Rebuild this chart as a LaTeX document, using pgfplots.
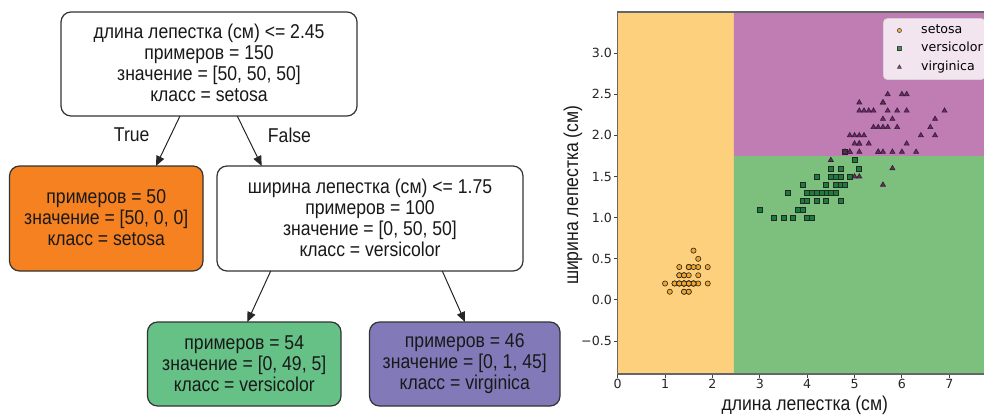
\documentclass[border=0pt]{standalone}
\usepackage{fontspec}
\setmainfont{DejaVu Sans}
\newfontfamily\treefont[FakeStretch=0.88]{Liberation Sans}
\usepackage{pgfplots}
\pgfplotsset{compat=1.18}
\usetikzlibrary{arrows.meta}
\definecolor{regA}{RGB}{253,208,125}
\definecolor{regB}{RGB}{125,192,125}
\definecolor{regC}{RGB}{191,125,180}
\definecolor{mkA}{RGB}{245,165,35}
\definecolor{mkB}{RGB}{25,125,60}
\definecolor{mkC}{RGB}{125,30,120}
\definecolor{nodeA}{RGB}{245,129,33}
\definecolor{nodeB}{RGB}{102,193,135}
\definecolor{nodeC}{RGB}{130,121,185}
\begin{document}
\begin{tikzpicture}
\useasboundingbox (0,0) rectangle (492pt,-208.5pt);
\clip (0,0) rectangle (492pt,-208.5pt);
\begin{scope}[x=0.5pt,y=-0.5pt,
  box/.style={draw=black!80, line width=0.6pt, rounded corners=5pt},
  txt/.style={align=center, text=black!90, inner sep=0pt, font=\treefont\fontsize{10pt}{10.5pt}\selectfont},
  arr/.style={draw=black!85, line width=0.5pt, -{Triangle[length=5pt,width=4.2pt]}}]
\draw[box, fill=white] (61,12) rectangle (357,116);
\node[txt] at (209,63) {длина лепестка (см) <= 2.45\\примеров = 150\\значение = [50, 50, 50]\\класс = setosa};
\draw[box, fill=nodeA] (9.5,166) rectangle (203,271);
\node[txt] at (106.25,217.5) {примеров = 50\\значение = [50, 0, 0]\\класс = setosa};
\draw[box, fill=white] (217,166) rectangle (523,271);
\node[txt] at (370,217.5) {ширина лепестка (см) <= 1.75\\примеров = 100\\значение = [0, 50, 50]\\класс = versicolor};
\draw[box, fill=nodeB] (147.5,322) rectangle (341,406);
\node[txt] at (244.25,363.5) {примеров = 54\\значение = [0, 49, 5]\\класс = versicolor};
\draw[box, fill=nodeC] (369.5,322) rectangle (560,406);
\node[txt] at (464.75,363.5) {примеров = 46\\значение = [0, 1, 45]\\класс = virginica};
\draw[arr] (180,116) -- (156,166);
\draw[arr] (237.3,116) -- (261.7,166);
\draw[arr] (270.7,271) -- (247.3,322);
\draw[arr] (442.3,271) -- (465,322);
\node[txt] at (131.7,135) {True};
\node[txt] at (289.5,135) {False};
\end{scope}
\begin{axis}[at={(308.85pt,-187pt)}, anchor=south west, scale only axis,
  width=187.1pt, height=181pt,
  xmin=0, xmax=7.9, ymin=-0.9, ymax=3.5,
  xtick={0,1,2,3,4,5,6,7}, xticklabels={0,1,2,3,4,5,6,7},
  ytick={-0.5,0,0.5,1,1.5,2,2.5,3},
  yticklabels={−0.5,0.0,0.5,1.0,1.5,2.0,2.5,3.0},
  tick pos=left, tick align=outside, major tick length=1.75pt,
  tick style={draw=black!75, line width=0.5pt},
  axis line style={draw=black!60, line width=0.6pt},
  ticklabel style={font=\fontsize{6.3pt}{7.5pt}\selectfont, text=black!85},
  xticklabel style={inner sep=0.5pt},
  yticklabel style={inner sep=1pt},
  xlabel={длина лепестка (см)}, ylabel={ширина лепестка (см)},
  label style={font=\treefont\fontsize{10pt}{11pt}\selectfont, text=black!90},
  x label style={at={(axis description cs:0.5,-0.0857)}, anchor=center},
  y label style={at={(axis description cs:-0.1195,0.494)}, anchor=center, rotate=0},
  legend cell align=left,
  legend image code/.code={\path[draw=none,fill=none] (0pt,0pt) rectangle (17.7pt,0.1pt); \draw[#1, every mark/.append style={scale=0.8}] plot coordinates {(8pt,0pt)};},
  legend style={at={(0.709,0.983)}, anchor=north west, fill=white, fill opacity=0.8,
    draw opacity=0.8, text opacity=1, draw=black!15, rounded corners=2pt,
    font=\fontsize{6.3pt}{7.3pt}\selectfont, inner xsep=0pt, inner ysep=1.8pt, row sep=0.6pt,
    nodes={inner sep=1.2pt}},
  axis on top,
]
\addplot[draw=none, fill=regA, forget plot] coordinates {(0,-0.9) (2.45,-0.9) (2.45,3.5) (0,3.5) (0,-0.9)};
\addplot[draw=none, fill=regB, forget plot] coordinates {(2.45,-0.9) (7.9,-0.9) (7.9,1.75) (2.45,1.75) (2.45,-0.9)};
\addplot[draw=none, fill=regC, forget plot] coordinates {(2.45,1.75) (7.9,1.75) (7.9,3.5) (2.45,3.5) (2.45,1.75)};
\addplot[only marks, mark=*, mark size=1.3pt, mark options={fill=mkA, draw=black!85, line width=0.3pt}] coordinates {
(1.4,0.2)(1.4,0.2)(1.3,0.2)(1.5,0.2)(1.4,0.2)(1.7,0.4)(1.4,0.3)(1.5,0.2)(1.4,0.2)(1.5,0.1)
(1.5,0.2)(1.6,0.2)(1.4,0.1)(1.1,0.1)(1.2,0.2)(1.5,0.4)(1.3,0.4)(1.4,0.3)(1.7,0.3)(1.5,0.3)
(1.7,0.2)(1.5,0.4)(1.0,0.2)(1.7,0.5)(1.9,0.2)(1.6,0.2)(1.6,0.4)(1.5,0.2)(1.4,0.2)(1.6,0.2)
(1.6,0.2)(1.5,0.4)(1.5,0.1)(1.4,0.2)(1.5,0.2)(1.2,0.2)(1.3,0.2)(1.4,0.1)(1.3,0.2)(1.5,0.2)
(1.3,0.3)(1.3,0.3)(1.3,0.2)(1.6,0.6)(1.9,0.4)(1.4,0.3)(1.6,0.2)(1.4,0.2)(1.5,0.2)(1.4,0.2)};
\addlegendentry{setosa}
\addplot[only marks, mark=square*, mark size=1.25pt, mark options={fill=mkB, draw=black!85, line width=0.3pt}] coordinates {
(4.7,1.4)(4.5,1.5)(4.9,1.5)(4.0,1.3)(4.6,1.5)(4.5,1.3)(4.7,1.6)(3.3,1.0)(4.6,1.3)(3.9,1.4)
(3.5,1.0)(4.2,1.5)(4.0,1.0)(4.7,1.4)(3.6,1.3)(4.4,1.4)(4.5,1.5)(4.1,1.0)(4.5,1.5)(3.9,1.1)
(4.8,1.8)(4.0,1.3)(4.9,1.5)(4.7,1.2)(4.3,1.3)(4.4,1.4)(4.8,1.4)(5.0,1.7)(4.5,1.5)(3.5,1.0)
(3.8,1.1)(3.7,1.0)(3.9,1.2)(5.1,1.6)(4.5,1.5)(4.5,1.6)(4.7,1.5)(4.4,1.3)(4.1,1.3)(4.0,1.3)
(4.4,1.2)(4.6,1.4)(4.0,1.2)(3.3,1.0)(4.2,1.3)(4.2,1.2)(4.2,1.3)(4.3,1.3)(3.0,1.1)(4.1,1.3)};
\addlegendentry{versicolor}
\addplot[only marks, mark=triangle*, mark size=1.45pt, mark options={fill=mkC, draw=black!85, line width=0.3pt}] coordinates {
(6.0,2.5)(5.1,1.9)(5.9,2.1)(5.6,1.8)(5.8,2.2)(6.6,2.1)(4.5,1.7)(6.3,1.8)(5.8,1.8)(6.1,2.5)
(5.1,2.0)(5.3,1.9)(5.5,2.1)(5.0,2.0)(5.1,2.4)(5.3,2.3)(5.5,1.8)(6.7,2.2)(6.9,2.3)(5.0,1.5)
(5.7,2.3)(4.9,2.0)(6.7,2.0)(4.9,1.8)(5.7,2.1)(6.0,1.8)(4.8,1.8)(4.9,1.8)(5.6,2.1)(5.8,1.6)
(6.1,1.9)(6.4,2.0)(5.6,2.2)(5.1,1.5)(5.6,1.4)(6.1,2.3)(5.6,2.4)(5.5,1.8)(4.8,1.8)(5.4,2.1)
(5.6,2.4)(5.1,2.3)(5.1,1.9)(5.9,2.3)(5.7,2.5)(5.2,2.3)(5.0,1.9)(5.2,2.0)(5.4,2.3)(5.1,1.8)};
\addlegendentry{virginica}
\end{axis}
\end{tikzpicture}
\end{document}
